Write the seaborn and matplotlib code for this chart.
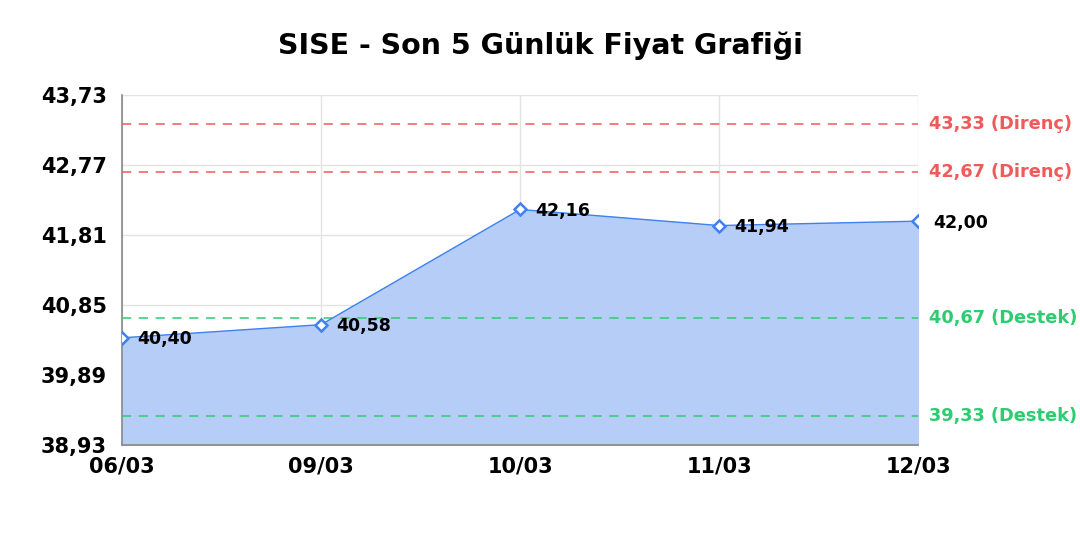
import pandas as pd
import numpy as np
import matplotlib
matplotlib.use("Agg")
import matplotlib.pyplot as plt
import seaborn as sns

# veriler
tarihler = ["06/03", "09/03", "10/03", "11/03", "12/03"]
fiyatlar = [40.40, 40.58, 42.16, 41.94, 42.00]
direnc = [43.33, 42.67]
destek = [40.67, 39.33]
y_ticks = [38.93, 39.89, 40.85, 41.81, 42.77, 43.73]

df = pd.DataFrame({"x": range(len(tarihler)), "fiyat": fiyatlar})

sns.set_style("white")
plt.rcParams["font.family"] = ["DejaVu Sans"]
plt.rcParams["text.color"] = "black"
plt.rcParams["xtick.color"] = "black"
plt.rcParams["ytick.color"] = "black"

fig = plt.figure(figsize=(10.8, 5.4), dpi=100)
ax = fig.add_axes([0.113, 0.176, 0.737, 0.648])

mavi = "#3d82f0"
kirmizi = "#f05a5a"
yesil = "#2ecc71"

ax.fill_between(df["x"], df["fiyat"], y_ticks[0], color="#b6cdf7", zorder=1)
sns.lineplot(data=df, x="x", y="fiyat", ax=ax, color=mavi, linewidth=1.0,
             marker="D", markersize=6.5, markerfacecolor="white",
             markeredgecolor=mavi, markeredgewidth=1.8, zorder=5)

def fmt(v):
    return f"{v:.2f}".replace(".", ",")

for i, v in enumerate(fiyatlar):
    ax.annotate(fmt(v), (i, v), xytext=(11, -1), textcoords="offset points",
                ha="left", va="center", fontsize=12.5, fontweight="bold",
                color="black", zorder=6, annotation_clip=False)

for v in direnc:
    ax.axhline(v, color=kirmizi, linestyle=(0, (6, 5)), linewidth=1.1, zorder=3)
    ax.annotate(f"{fmt(v)} (Direnç)", (1, v), xycoords=("axes fraction", "data"),
                xytext=(8, 0), textcoords="offset points", ha="left", va="center",
                fontsize=12.8, fontweight="bold", color=kirmizi)
for v in destek:
    ax.axhline(v, color=yesil, linestyle=(0, (6, 5)), linewidth=1.1, zorder=3)
    ax.annotate(f"{fmt(v)} (Destek)", (1, v), xycoords=("axes fraction", "data"),
                xytext=(8, 0), textcoords="offset points", ha="left", va="center",
                fontsize=12.8, fontweight="bold", color=yesil)

ax.set_xlim(0, len(tarihler) - 1)
ax.set_ylim(y_ticks[0], y_ticks[-1])
ax.set_xticks(range(len(tarihler)))
ax.set_xticklabels(tarihler, fontsize=15, fontweight="bold")
ax.set_yticks(y_ticks)
ax.set_yticklabels([fmt(v) for v in y_ticks], fontsize=15, fontweight="bold")
ax.tick_params(axis="both", length=0)
ax.tick_params(axis="x", pad=8)
ax.tick_params(axis="y", pad=11)
ax.grid(True, color="#e3e3e3", linewidth=1)
ax.set_axisbelow(True)
ax.set_xlabel("")
ax.set_ylabel("")
for s in ["top", "right"]:
    ax.spines[s].set_visible(False)
for s in ["left", "bottom"]:
    ax.spines[s].set_color("#888888")
    ax.spines[s].set_linewidth(1.2)

fig.suptitle("SISE - Son 5 Günlük Fiyat Grafiği", y=0.915, va="center",
             fontsize=20.5, fontweight="bold")

fig.savefig("out.png", dpi=100)
